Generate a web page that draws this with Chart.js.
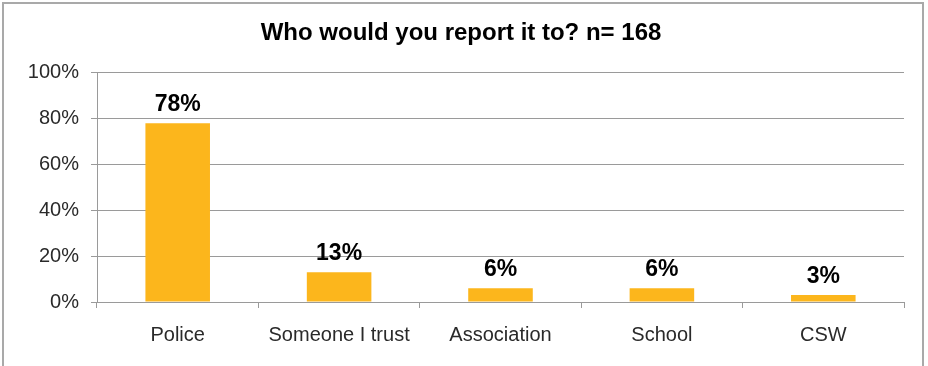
<!DOCTYPE html>
<html>
<head>
<meta charset="utf-8">
<script src="https://cdn.jsdelivr.net/npm/chart.js@4/dist/chart.umd.min.js"></script>
<style>
  html, body { margin: 0; padding: 0; background: #fff; }
  #wrap { position: relative; width: 928px; height: 366px; overflow: hidden; }
  #frame { position: absolute; left: 2px; top: 2px; width: 922px; height: 400px;
           border: 2px solid #a9a9a9; box-sizing: border-box; }
  canvas { position: absolute; left: 0; top: 0; }
</style>
</head>
<body>
<div id="wrap">
  <div id="frame"></div>
  <canvas id="c" width="928" height="366"></canvas>
</div>
<script>
const categories = ['Police', 'Someone I trust', 'Association', 'School', 'CSW'];
const shares = [78, 13, 6, 6, 3];
const yTicks = [0, 20, 40, 60, 80, 100];
const titleText = 'Who would you report it to? n= 168';

const FONT = '"Liberation Sans", Arial, sans-serif';

// Bold percentage drawn above each bar, taken from the bar's own value
const valueLabels = {
  id: 'valueLabels',
  afterDatasetsDraw(chart) {
    const ctx = chart.ctx;
    const meta = chart.getDatasetMeta(0);
    ctx.save();
    ctx.font = 'bold 23px ' + FONT;
    ctx.fillStyle = '#000';
    ctx.textAlign = 'center';
    ctx.textBaseline = 'alphabetic';
    meta.data.forEach((bar, i) => {
      ctx.fillText(shares[i] + '%', bar.x, bar.y - 12);
    });
    ctx.restore();
  }
};

new Chart(document.getElementById('c'), {
  type: 'bar',
  data: {
    labels: categories,
    datasets: [{
      data: shares,
      backgroundColor: '#FCB61C',
      borderWidth: 0,
      categoryPercentage: 1,
      barPercentage: 0.4
    }]
  },
  options: {
    responsive: false,
    animation: false,
    layout: { padding: { left: 18, right: 24, top: 0, bottom: 0 } },
    plugins: {
      legend: { display: false },
      tooltip: { enabled: false },
      title: {
        display: true,
        text: titleText,
        color: '#000',
        font: { family: FONT, size: 24, weight: 'bold', lineHeight: 1.2 },
        padding: { top: 19, bottom: 25 }
      }
    },
    scales: {
      x: {
        grid: { drawOnChartArea: false, drawTicks: true, tickLength: 6, color: '#9a9a9a', offset: true },
        border: { display: true, color: '#9a9a9a', width: 1 },
        ticks: { color: '#2a2a2a', font: { family: FONT, size: 20 }, padding: 15, maxRotation: 0 },
        afterFit(scale) { scale.height = 64; }
      },
      y: {
        min: 0,
        max: 100,
        afterBuildTicks(scale) { scale.ticks = yTicks.map(v => ({ value: v })); },
        grid: { color: '#9a9a9a', tickLength: 6 },
        border: { display: true, color: '#9a9a9a', width: 1 },
        ticks: {
          color: '#2a2a2a',
          font: { family: FONT, size: 20 },
          padding: 12,
          callback: v => v + '%'
        },
        afterFit(scale) { scale.width = 79; }
      }
    }
  },
  plugins: [valueLabels]
});
</script>
</body>
</html>
